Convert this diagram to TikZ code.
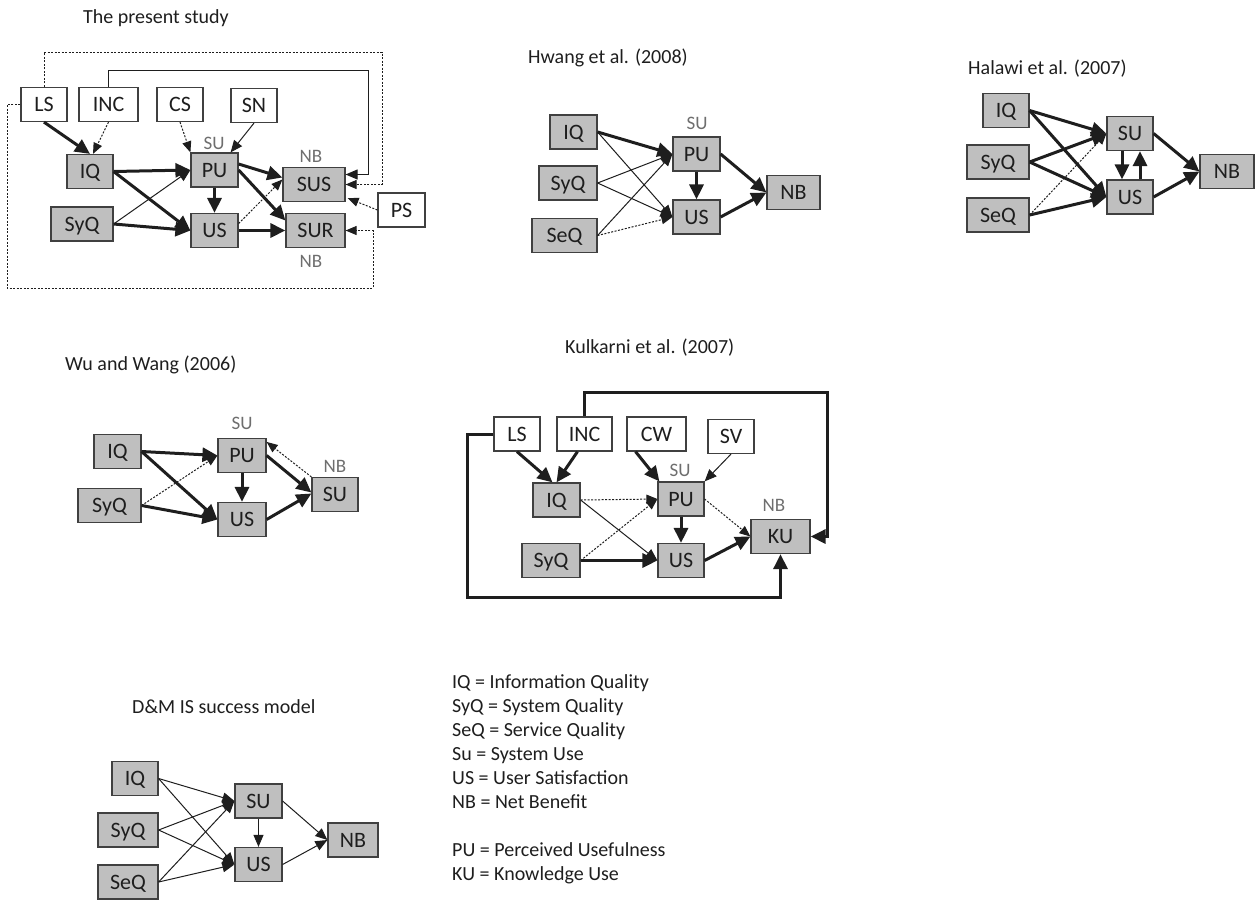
\documentclass[tikz,border=0pt]{standalone}
\usepackage{fontspec}
\setmainfont{Carlito}
\usetikzlibrary{arrows.meta,calc}
\definecolor{boxfill}{RGB}{191,191,191}
\definecolor{boxline}{RGB}{64,64,64}
\definecolor{ink}{RGB}{30,30,30}
\definecolor{lblgray}{RGB}{110,110,110}
\tikzset{
 bx/.style={draw=boxline, line width=1.2pt, minimum height=34pt, inner sep=0pt, text height=14.2pt, text depth=0pt, font=\fontsize{22}{26}\selectfont, text=ink},
 gbx/.style={bx, fill=boxfill},
 wbx/.style={bx, fill=white},
 ttl/.style={anchor=base west, inner sep=0pt, font=\fontsize{20}{24}\selectfont, text=ink},
 glbl/.style={inner sep=0pt, font=\fontsize{19}{22}\selectfont, text=lblgray, text height=12.2pt, text depth=0pt},
 thk/.style={draw=ink, line width=3pt, -{Triangle[length=15pt,width=14pt]}},
 thn/.style={draw=ink, line width=1pt, -{Triangle[length=12pt,width=10pt]}},
 dtd/.style={draw=ink, line width=1pt, dash pattern=on 2pt off 1.5pt, -{Triangle[length=11pt,width=9pt]}},
}
\begin{document}
\begin{tikzpicture}[x=1pt,y=-1pt]
\useasboundingbox (0,0) rectangle (1258,900);

% ---------- titles
\node[ttl] (tPres) at (83,23.5) {The present study};
\node[ttl] (tHw) at (528,63.5) {Hwang et al. (2008)};
\node[ttl] (tHa) at (968,74.5) {Halawi et al. (2007)};
\node[ttl] (tWu) at (65,370.5) {Wu and Wang (2006)};
\node[ttl] (tKu) at (565,353.5) {Kulkarni et al. (2007)};
\node[ttl] (tDM) at (132,713.5) {D\&M IS success model};

% ---------- legend
\node[ttl] (lg1) at (452,688.5) {IQ = Information Quality};
\node[ttl] (lg2) at (452,712.5) {SyQ = System Quality};
\node[ttl] (lg3) at (452,736.5) {SeQ = Service Quality};
\node[ttl] (lg4) at (452,760.5) {Su = System Use};
\node[ttl] (lg5) at (452,784.5) {US = User Satisfaction};
\node[ttl] (lg6) at (452,808.5) {NB = Net Benefit};
\node[ttl] (lg7) at (452,856.5) {PU = Perceived Usefulness};
\node[ttl] (lg8) at (452,880.5) {KU = Knowledge Use};

% ---------- the present study
\node[wbx, minimum width=46pt] (pLS) at (44,104.5) {LS};
\node[wbx, minimum width=59pt] (pINC) at (108.5,104.5) {INC};
\node[wbx, minimum width=46pt] (pCS) at (180,104.5) {CS};
\node[wbx, minimum width=46pt] (pSN) at (254,105.5) {SN};
\node[gbx, minimum width=46pt] (pIQ) at (90,171.5) {IQ};
\node[gbx, minimum width=62pt] (pSyQ) at (82,224) {SyQ};
\node[gbx, minimum width=47pt] (pPU) at (214.5,170) {PU};
\node[gbx, minimum width=47pt] (pUS) at (214.5,230.5) {US};
\node[gbx, minimum width=62pt] (pSUS) at (314,184.5) {SUS};
\node[gbx, minimum width=59pt] (pSUR) at (315.5,230.5) {SUR};
\node[wbx, minimum width=47pt] (pPS) at (401.5,210) {PS};
\node[glbl] (pL1) at (214,143) {SU};
\node[glbl] (pL2) at (311,156) {NB};
\node[glbl] (pL3) at (311,261) {NB};
\coordinate (pcA) at (382,52);
\coordinate (pcB) at (368,70);
\coordinate (pcC) at (7,288);
\coordinate (pcD) at (373,230.5);

\draw[dtd] (pLS.north) |- (pcA) |- (pSUS.east);
\draw[thn] (pINC.north) |- (pcB) |- ($(pSUS.east)+(0,-10)$);
\draw[dtd] (pLS.west) -| (pcC) -| (pcD) -- (pSUR.east);
\draw[thk] (pLS.south) -- (pIQ.north);
\draw[dtd] (pINC.south) -- ($(pIQ.north)+(3,0)$);
\draw[dtd] (pCS.south) -- (pPU.north west);
\draw[thn] (pSN.south) -- ($(pPU.north east)+(-8,0)$);
\draw[thk] (pIQ.east) -- (pPU.west);
\draw[thk] (pIQ.east) -- (pUS.west);
\draw[thn] (pSyQ.east) -- (pPU.west);
\draw[thk] (pSyQ.east) -- (pUS.west);
\draw[thk] (pPU.south) -- (pUS.north);
\draw[thk] ($(pPU.east)+(0,-6)$) -- ($(pSUS.west)+(0,-7)$);
\draw[thk] (pPU.east) -- ($(pSUR.west)+(0,-10)$);
\draw[dtd] ($(pUS.east)+(0,-7)$) -- ($(pSUS.west)+(0,-5)$);
\draw[thk] (pUS.east) -- (pSUR.west);
\draw[dtd] (pPS.west) -- ($(pSUS.south east)+(2,-4)$);

% ---------- Hwang et al.
\node[gbx, minimum width=47pt] (hIQ) at (573.5,132) {IQ};
\node[gbx, minimum width=58pt] (hSyQ) at (568,183) {SyQ};
\node[gbx, minimum width=65pt] (hSeQ) at (564.5,235.5) {SeQ};
\node[gbx, minimum width=47pt] (hPU) at (696.5,154) {PU};
\node[gbx, minimum width=47pt] (hUS) at (696.5,217) {US};
\node[gbx, minimum width=53pt] (hNB) at (793.5,192.5) {NB};
\node[glbl] (hL1) at (697,123) {SU};
\draw[thk] (hIQ.east) -- (hPU.west);
\draw[thn] (hIQ.east) -- (hUS.west);
\draw[thn] (hSyQ.east) -- (hPU.west);
\draw[thn] (hSyQ.east) -- (hUS.west);
\draw[thn] (hSeQ.east) -- (hPU.west);
\draw[dtd] (hSeQ.east) -- (hUS.west);
\draw[thk] (hPU.south) -- (hUS.north);
\draw[thk] (hPU.east) -- (hNB.west);
\draw[thk] (hUS.east) -- (hNB.west);

% ---------- Halawi et al.
\node[gbx, minimum width=46pt] (aIQ) at (1006,110.5) {IQ};
\node[gbx, minimum width=62pt] (aSyQ) at (998,162) {SyQ};
\node[gbx, minimum width=62pt] (aSeQ) at (998,215) {SeQ};
\node[gbx, minimum width=46pt] (aSU) at (1130,133.5) {SU};
\node[gbx, minimum width=46pt] (aUS) at (1130,197) {US};
\node[gbx, minimum width=54pt] (aNB) at (1227,171.5) {NB};
\draw[thk] (aIQ.east) -- (aSU.west);
\draw[thk] (aIQ.east) -- (aUS.west);
\draw[thk] (aSyQ.east) -- (aSU.west);
\draw[thk] (aSyQ.east) -- (aUS.west);
\draw[dtd] (aSeQ.east) -- (aSU.west);
\draw[thk] (aSeQ.east) -- (aUS.west);
\draw[thk] ($(aSU.south)+(-8,0)$) -- ($(aUS.north)+(-8,0)$);
\draw[thk] ($(aUS.north)+(10,0)$) -- ($(aSU.south)+(10,0)$);
\draw[thk] (aSU.east) -- (aNB.west);
\draw[thk] (aUS.east) -- (aNB.west);

% ---------- Wu and Wang
\node[gbx, minimum width=47pt] (wIQ) at (117.5,451.5) {IQ};
\node[gbx, minimum width=63pt] (wSyQ) at (109.5,505.5) {SyQ};
\node[gbx, minimum width=48pt] (wPU) at (242,455.5) {PU};
\node[gbx, minimum width=48pt] (wUS) at (242,519.5) {US};
\node[gbx, minimum width=46pt] (wSU) at (335,494.5) {SU};
\node[glbl] (wL1) at (242,423) {SU};
\node[glbl] (wL2) at (335,466) {NB};
\draw[thk] (wIQ.east) -- (wPU.west);
\draw[thk] (wIQ.east) -- (wUS.west);
\draw[dtd] (wSyQ.east) -- (wPU.west);
\draw[thk] (wSyQ.east) -- (wUS.west);
\draw[thk] (wPU.south) -- (wUS.north);
\draw[thk] (wPU.east) -- ($(wSU.west)+(0,-2)$);
\draw[dtd] (wSU.north west) -- ($(wPU.north east)+(0,4)$);
\draw[thk] (wUS.east) -- ($(wSU.west)+(0,-1)$);

% ---------- Kulkarni et al.
\node[wbx, minimum width=46pt] (kLS) at (517,434) {LS};
\node[wbx, minimum width=55pt] (kINC) at (584.5,434) {INC};
\node[wbx, minimum width=59pt] (kCW) at (656.5,434) {CW};
\node[wbx, minimum width=46pt] (kSV) at (731,436.5) {SV};
\node[gbx, minimum width=47pt] (kIQ) at (556.5,500) {IQ};
\node[gbx, minimum width=58pt] (kSyQ) at (551,560.5) {SyQ};
\node[gbx, minimum width=46pt] (kPU) at (681,499) {PU};
\node[gbx, minimum width=46pt] (kUS) at (681,560.5) {US};
\node[gbx, minimum width=59pt] (kKU) at (780.5,536.5) {KU};
\node[glbl] (kL1) at (680,470) {SU};
\node[glbl] (kL2) at (774,505) {NB};
\coordinate (kcA) at (827,392);
\coordinate (kcB) at (467,597);
\draw[thk] (kINC.north) |- (kcA) |- (kKU.east);
\draw[thk] (kLS.west) -| (kcB) -| (kKU.south);
\draw[thk] (kLS.south) -- ($(kIQ.north)+(-4,0)$);
\draw[thk] ($(kINC.south)+(-7,0)$) -- (kIQ.north);
\draw[thk] ($(kCW.south)+(-21,0)$) -- ($(kPU.north west)+(2,0)$);
\draw[thn] (kSV.south) -- (kPU.north east);
\draw[dtd] (kIQ.east) -- (kPU.west);
\draw[thn] (kIQ.east) -- (kUS.west);
\draw[dtd] (kSyQ.east) -- (kPU.west);
\draw[thk] (kSyQ.east) -- (kUS.west);
\draw[thk] (kPU.south) -- (kUS.north);
\draw[dtd] (kPU.east) -- (kKU.west);
\draw[thk] (kUS.east) -- (kKU.west);

% ---------- D&M IS success model
\node[gbx, minimum width=46pt] (dIQ) at (135,778.5) {IQ};
\node[gbx, minimum width=60pt] (dSyQ) at (128,830) {SyQ};
\node[gbx, minimum width=60pt] (dSeQ) at (128,882) {SeQ};
\node[gbx, minimum width=47pt] (dSU) at (258.5,801) {SU};
\node[gbx, minimum width=47pt] (dUS) at (258.5,864.5) {US};
\node[gbx, minimum width=50pt] (dNB) at (353,840) {NB};
\draw[thn] (dIQ.east) -- (dSU.west);
\draw[thn] (dIQ.east) -- (dUS.west);
\draw[thn] (dSyQ.east) -- (dSU.west);
\draw[thn] (dSyQ.east) -- (dUS.west);
\draw[thn] (dSeQ.east) -- (dSU.west);
\draw[thn] (dSeQ.east) -- (dUS.west);
\draw[thn] (dSU.south) -- (dUS.north);
\draw[thn] (dSU.east) -- (dNB.west);
\draw[thn] (dUS.east) -- (dNB.west);
\end{tikzpicture}
\end{document}
